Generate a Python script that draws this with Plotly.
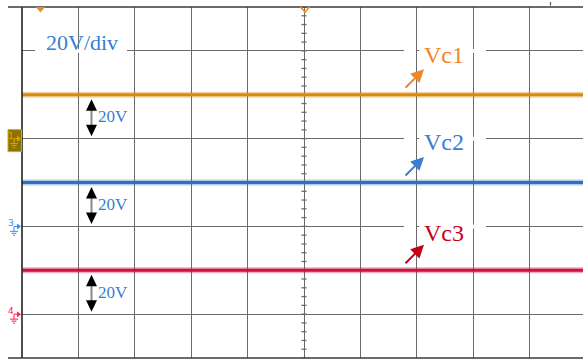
import plotly.graph_objects as go

# Oscilloscope capture: three capacitor voltages, each on its own channel
channels = ["Vc1", "Vc2", "Vc3"]
channel_ids = [1, 3, 4]
cap_voltage = [20, 20, 20]          # V
ground_level = [1, -1, -3]          # channel ground offsets, in divisions
volts_per_div = 20
time_span = [-5, 5]                 # horizontal extent, in divisions

trace_colors = ["#d98a0b", "#2f6fc2", "#cc1140"]
label_colors = ["#f0862a", "#3a7dd2", "#c40018"]
marker_colors = ["#e8a000", "#3d8cff", "#ff1f4b"]
label_rise_px = [39.5, 40.5, 37.0]  # label height above its trace

# ---- screen geometry -------------------------------------------------------
W, H = 583, 360
ML, MR, MT, MB = 22, 0, 7, 2
PW, PH = W - ML - MR, H - MT - MB
DIV_X = 56.4
DIV_Y = PH / 8
X_RANGE = [-5, -5 + PW / DIV_X]
GRID = "#6a6a6a"
SERIF = "Liberation Serif, Times New Roman, DejaVu Serif, serif"


def px_x(px):
    """pixel column -> horizontal division"""
    return (px - ML) / DIV_X - 5


def dy(p):
    """vertical pixel span -> divisions"""
    return p / DIV_Y


def paper_x(px):
    return (px - ML) / PW


def paper_y(py):
    return (H - MB - py) / PH


fig = go.Figure()
shapes = []
annotations = []

# ---- traces -----------------------------------------------------------------
for name, v, g, c in zip(channels, cap_voltage, ground_level, trace_colors):
    level = g + v / volts_per_div
    ys = [level for _ in time_span]
    fig.add_trace(go.Scatter(x=time_span, y=ys, mode="lines", opacity=0.35,
                             line=dict(color=c, width=6), hoverinfo="skip",
                             showlegend=False))
    fig.add_trace(go.Scatter(x=time_span, y=ys, mode="lines", name=name,
                             line=dict(color=c, width=2.8), showlegend=False))

# ---- frame ------------------------------------------------------------------
shapes.append(dict(type="line", xref="paper", yref="paper", x0=0, x1=0,
                   y0=0, y1=1, line=dict(color="#222", width=1.6), layer="above"))
for yp in (0, 1):
    shapes.append(dict(type="line", xref="paper", yref="paper",
                       x0=paper_x(8), x1=1, y0=yp, y1=yp,
                       line=dict(color="#3a3a3a", width=1.6), layer="above"))
shapes.append(dict(type="line", xref="paper", yref="paper",
                   x0=paper_x(550.5), x1=paper_x(550.5),
                   y0=paper_y(2), y1=paper_y(5.5),
                   line=dict(color="#555", width=1.2), layer="above"))

# centre graticule minor ticks on the vertical centre line
for k in range(-20, 21):
    yv = k * 0.2
    shapes.append(dict(type="line", xref="x", yref="y",
                       x0=-2.5 / DIV_X, x1=2.5 / DIV_X, y0=yv, y1=yv,
                       line=dict(color=GRID, width=1.3), layer="below"))

# trigger / position markers along the top
shapes.append(dict(type="path", xref="paper", yref="paper",
                   path=f"M{paper_x(36)},{paper_y(7)} L{paper_x(45)},{paper_y(7)} "
                        f"L{paper_x(40.5)},{paper_y(12.5)} Z",
                   fillcolor="#f08a1e", line=dict(width=0), layer="above"))
shapes.append(dict(type="path", xref="paper", yref="paper",
                   path=f"M{paper_x(300.5)},{paper_y(7)} L{paper_x(305)},{paper_y(12)} "
                        f"L{paper_x(309.5)},{paper_y(7)}",
                   line=dict(color="#f0901e", width=1.8), layer="above"))


# ---- channel ground markers on the left edge -----------------------------------
def ground_marker(ch, g, color, boxed):
    def P(px, off):
        return f"{paper_x(px)},{g - dy(off)}"
    if boxed:
        shapes.append(dict(type="rect", xref="paper", yref="y",
                           x0=paper_x(8), x1=paper_x(21.5),
                           y0=g - dy(13), y1=g + dy(9),
                           fillcolor="#8a7400", line=dict(color="#e8a000", width=1),
                           layer="above"))
    shapes.append(dict(type="path", xref="paper", yref="y",
                       path=f"M{P(17, -3)} L{P(21, 0)} L{P(17, 3)} Z",
                       fillcolor=color, line=dict(width=0), layer="above"))
    for a, b in [((14, 0), (17, 0)), ((14, 0), (14, 5)), ((10, 5), (18, 5)),
                 ((11.5, 7), (16.5, 7)), ((13, 9), (15, 9))]:
        shapes.append(dict(type="path", xref="paper", yref="y",
                           path=f"M{P(*a)} L{P(*b)}",
                           line=dict(color=color, width=1), layer="above"))
    annotations.append(dict(xref="paper", yref="y", x=paper_x(10.5),
                            y=g + dy(3), text=str(ch), showarrow=False,
                            font=dict(family="DejaVu Sans", size=9, color=color),
                            xanchor="center", yanchor="middle"))


for i, (ch, g, mc) in enumerate(zip(channel_ids, ground_level, marker_colors)):
    ground_marker(ch, g, mc, boxed=(i == 0))

# ---- per-channel amplitude arrows and labels --------------------------------
ax_x = px_x(91.5)
hw = 5.5 / DIV_X
for name, v, g, lc, tc, rise in zip(channels, cap_voltage, ground_level,
                                    label_colors, trace_colors, label_rise_px):
    level = g + v / volts_per_div

    # double-headed arrow from trace down to the channel ground
    shapes.append(dict(type="line", xref="x", yref="y", x0=ax_x, x1=ax_x,
                       y0=level - dy(13), y1=g + dy(11),
                       line=dict(color="#8a8a8a", width=2), layer="above"))
    shapes.append(dict(type="path", xref="x", yref="y",
                       path=f"M{ax_x},{level - dy(4.5)} L{ax_x + hw},{level - dy(16)} "
                            f"L{ax_x - hw},{level - dy(16)} Z",
                       fillcolor="#000", line=dict(width=0), layer="above"))
    shapes.append(dict(type="path", xref="x", yref="y",
                       path=f"M{ax_x},{g + dy(2.5)} L{ax_x + hw},{g + dy(14)} "
                            f"L{ax_x - hw},{g + dy(14)} Z",
                       fillcolor="#000", line=dict(width=0), layer="above"))
    annotations.append(dict(x=px_x(96), y=(level + g) / 2, text=f"{v}V",
                            showarrow=False, xanchor="left", yanchor="middle",
                            font=dict(family=SERIF, size=17, color="#3a7dd2")))

    # channel name with a pointer arrow onto its trace
    grid_above = level + 1
    for x0, x1 in [(404, 416), (419, 486)]:
        shapes.append(dict(type="rect", xref="x", yref="y",
                           x0=px_x(x0), x1=px_x(x1),
                           y0=grid_above - dy(2), y1=grid_above + dy(2),
                           fillcolor="white", line=dict(width=0), layer="above"))
    annotations.append(dict(x=px_x(444), y=level + dy(rise), text=name,
                            showarrow=False, xanchor="center", yanchor="middle",
                            font=dict(family=SERIF, size=24, color=lc)))
    annotations.append(dict(x=px_x(424), y=level + dy(25.5),
                            ax=px_x(404), ay=level + dy(5.5),
                            axref="x", ayref="y", text="", showarrow=True,
                            arrowhead=2, arrowsize=1.3, arrowwidth=2,
                            arrowcolor=lc, standoff=0, startstandoff=0))

# volts-per-division caption
shapes.append(dict(type="rect", xref="x", yref="y",
                   x0=px_x(35), x1=px_x(127), y0=3 - dy(2), y1=3 + dy(2),
                   fillcolor="white", line=dict(width=0), layer="above"))
annotations.append(dict(x=px_x(44), y=4 - dy(35), text=f"{volts_per_div}V/div",
                        showarrow=False, xanchor="left", yanchor="middle",
                        font=dict(family=SERIF, size=22, color="#3a7dd2")))

axis_common = dict(showgrid=True, gridcolor=GRID, gridwidth=1.2, dtick=1, tick0=0,
                   showticklabels=False, ticks="", zeroline=False, showline=False,
                   fixedrange=True)

fig.update_layout(
    width=W, height=H, autosize=False,
    margin=dict(l=ML, r=MR, t=MT, b=MB, pad=0),
    paper_bgcolor="white", plot_bgcolor="white",
    xaxis=dict(range=X_RANGE, **axis_common),
    yaxis=dict(range=[-4, 4], **axis_common),
    shapes=shapes, annotations=annotations,
    showlegend=False,
)

fig.write_html("out.html")
